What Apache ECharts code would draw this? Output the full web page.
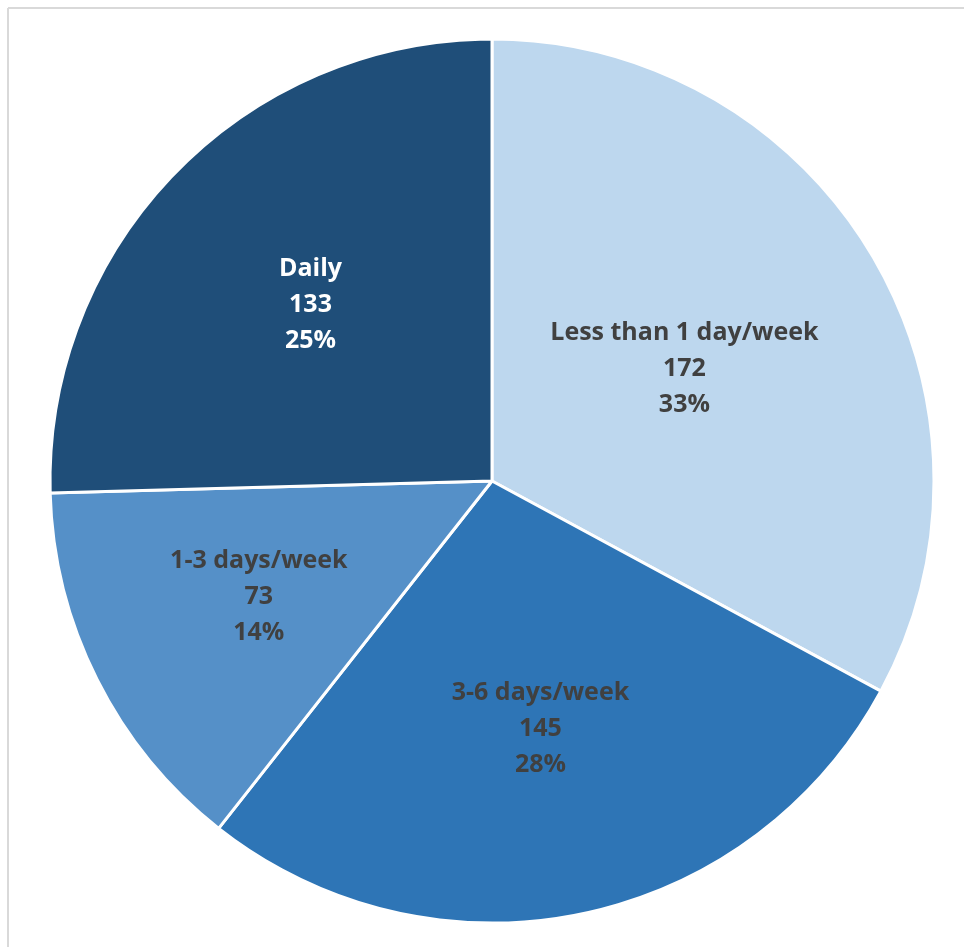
<!DOCTYPE html>
<html>
<head>
<meta charset="utf-8">
<script src="https://cdn.jsdelivr.net/npm/echarts@6/dist/echarts.min.js"></script>
<style>
  html, body { margin: 0; padding: 0; background: #fff; }
  #chart { width: 964px; height: 947px; }
</style>
</head>
<body>
<div id="chart"></div>
<script>
// Frequency categories, clockwise from 12 o'clock
const categories = ['Less than 1 day/week', '3-6 days/week', '1-3 days/week', 'Daily'];
const counts = [172, 145, 73, 133];
const percentLabels = ['33%', '28%', '14%', '25%'];

const sliceColors = ['#BDD7EE', '#2E75B6', '#5590C8', '#1F4E79'];
const labelColors = ['#404040', '#404040', '#404040', '#ffffff'];
// nudges for the in-slice labels (dx, dy)
const labelNudge = [[0, 3], [3, 29], [-33, 15], [-21, -20]];

const chart = echarts.init(document.getElementById('chart'));

chart.setOption({
  backgroundColor: '#ffffff',
  animation: false,
  graphic: [
    { type: 'line', shape: { x1: 8, y1: 8, x2: 964, y2: 8 }, style: { stroke: '#d9d9d9', lineWidth: 2 } },
    { type: 'line', shape: { x1: 8, y1: 8, x2: 8, y2: 947 }, style: { stroke: '#d9d9d9', lineWidth: 2 } }
  ],
  series: [{
    type: 'pie',
    center: [492, 481],
    radius: [0, 442],
    startAngle: 90,
    clockwise: true,
    avoidLabelOverlap: false,
    itemStyle: { borderColor: '#ffffff', borderWidth: 3 },
    label: {
      show: true,
      position: 'inside',
      fontFamily: 'Open Sans',
      fontWeight: 'bold',
      fontSize: 25,
      lineHeight: 36,
      align: 'center',
      formatter: p => p.name + '\n' + p.value + '\n' + percentLabels[p.dataIndex]
    },
    labelLine: { show: false },
    labelLayout: params => ({ dx: labelNudge[params.dataIndex][0], dy: labelNudge[params.dataIndex][1] }),
    data: categories.map((name, i) => ({
      name: name,
      value: counts[i],
      itemStyle: { color: sliceColors[i] },
      label: { color: labelColors[i] }
    }))
  }]
});
</script>
</body>
</html>
